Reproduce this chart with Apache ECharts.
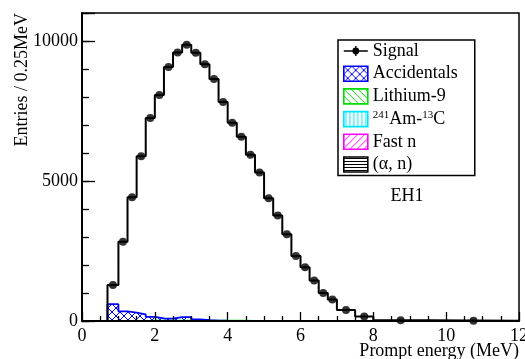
<!DOCTYPE html>
<html>
<head>
<meta charset="utf-8">
<script src="https://cdn.jsdelivr.net/npm/echarts@6/dist/echarts.min.js"></script>
<style>
  html, body { margin: 0; padding: 0; background: #fff; }
  #chart { width: 525px; height: 359px; }
</style>
</head>
<body>
<div id="chart"></div>
<script>
// Prompt-energy bin edges (MeV)
const binEdges = [0.7, 1.0, 1.25, 1.5, 1.75, 2.0, 2.25, 2.5, 2.75, 3.0, 3.25, 3.5, 3.75,
  4.0, 4.25, 4.5, 4.75, 5.0, 5.25, 5.5, 5.75, 6.0, 6.25, 6.5, 6.75, 7.0, 7.5, 8.0, 9.5, 12.0];

// Entries per 0.25 MeV in each bin
const signal = [1290, 2830, 4420, 5880, 7250, 8070, 9070, 9590, 9870, 9580, 9170, 8640, 7820,
  7080, 6580, 5940, 5300, 4380, 3770, 3100, 2320, 1920, 1450, 1000, 770, 390, 160, 25, 6];
const accidentals = [600, 345, 300, 240, 145, 90, 85, 135, 135, 60, 30, 15, 10,
  8, 6, 5, 4, 3, 3, 2, 2, 2, 1, 1, 1, 1, 0.5, 0.2, 0.1];
const lithium9 = [6, 7, 8, 8, 9, 9, 9, 9, 9, 9, 9, 9, 9,
  9, 9, 8, 8, 8, 8, 7, 7, 7, 6, 6, 6, 5, 5, 4, 2];
const amc = [0.1, 0.2, 0.3, 0.4, 0.5, 0.5, 0.5, 0.5, 0.5, 0.5, 0.5, 0.5, 0.4,
  0.4, 0.4, 0.4, 0.3, 0.3, 0.3, 0.3, 0.2, 0.2, 0.2, 0.2, 0.1, 0.1, 0.1, 0.1, 0.1];
const fastN = [3, 3, 3, 3, 3, 3, 3, 3, 3, 3, 3, 3, 3,
  3, 3, 3, 3, 3, 3, 3, 3, 3, 3, 3, 3, 3, 3, 3, 3];
const alphaN = [0.1, 0.1, 0.2, 0.2, 0.2, 0.2, 0.2, 0.2, 0.2, 0.2, 0.2, 0.2, 0.2,
  0.2, 0.2, 0.2, 0.2, 0.2, 0.2, 0.2, 0.1, 0.1, 0.1, 0.1, 0.1, 0.1, 0.1, 0.1, 0.1];

const yLabelValues = [0, 5000, 10000];

const FONT = '"Liberation Serif", "Times New Roman", serif';

// Outline of a histogram: horizontal run across each bin, vertical jumps at edges
function stepPoints(vals) {
  const pts = [[binEdges[0], 0]];
  vals.forEach((v, i) => {
    pts.push([binEdges[i], v]);
    pts.push([binEdges[i + 1], v]);
  });
  pts.push([binEdges[binEdges.length - 1], 0]);
  return pts;
}

function binCenters(vals) {
  return vals.map((v, i) => [(binEdges[i] + binEdges[i + 1]) / 2, v]);
}

// Hatched fill tiles
function hatch(color, kind, size) {
  const c = document.createElement('canvas');
  c.width = size; c.height = size;
  const g = c.getContext('2d');
  g.strokeStyle = color;
  g.lineWidth = 1;
  g.beginPath();
  if (kind === 'cross' || kind === 'back') {
    g.moveTo(-1, -1); g.lineTo(size + 1, size + 1);
  }
  if (kind === 'cross' || kind === 'fwd') {
    g.moveTo(-1, size + 1); g.lineTo(size + 1, -1);
  }
  if (kind === 'vert') {
    g.moveTo(size / 2, 0); g.lineTo(size / 2, size);
  }
  if (kind === 'horiz') {
    g.moveTo(0, size / 2); g.lineTo(size, size / 2);
  }
  g.stroke();
  return { image: c, repeat: 'repeat' };
}

const patAcc = hatch('#0000ff', 'cross', 8);
const patLi = hatch('#00dd00', 'back', 7);
const patAm = hatch('#00e5ff', 'vert', 4);
const patFn = hatch('#ff00ff', 'fwd', 7);
const patAn = hatch('#000000', 'horiz', 3);

const bkgDefs = [
  { name: 'Accidentals', vals: accidentals, line: '#0000ff', fill: patAcc },
  { name: 'Lithium-9', vals: lithium9, line: '#00dd00', fill: patLi },
  { name: '241Am-13C', vals: amc, line: '#00e5ff', fill: patAm },
  { name: 'Fast n', vals: fastN, line: '#ff00ff', fill: patFn },
  { name: '(α, n)', vals: alphaN, line: '#000000', fill: patAn }
];

// Marker with horizontal line and error bar for the Signal legend entry
const signalIcon = 'path://M0,0 h0.01 v0.01 h-0.01 Z M0,15 h0.01 v-0.01 h-0.01 Z ' +
  'M0,6.8 L24,6.8 L24,8.2 L0,8.2 Z M11.3,2.5 L12.7,2.5 L12.7,12.5 L11.3,12.5 Z ' +
  'M8.6,7.5 A3.4,3.4 0 1,1 15.4,7.5 A3.4,3.4 0 1,1 8.6,7.5 Z';

const chart = echarts.init(document.getElementById('chart'), null, { renderer: 'canvas' });

const series = [];
bkgDefs.slice().reverse().forEach(b => {
  series.push({
    name: b.name,
    type: 'line',
    data: stepPoints(b.vals),
    symbol: 'none',
    silent: true,
    lineStyle: { color: b.line, width: 1.8 },
    itemStyle: { color: b.line },
    areaStyle: { color: b.fill, opacity: 1 },
    z: 2
  });
});
series.push({
  name: 'Signal',
  type: 'line',
  data: stepPoints(signal),
  symbol: 'none',
  silent: true,
  lineStyle: { color: '#000', width: 2 },
  itemStyle: { color: '#000' },
  z: 3
});
series.push({
  name: 'Signal',
  type: 'scatter',
  data: binCenters(signal),
  symbol: 'circle',
  symbolSize: 8,
  silent: true,
  itemStyle: { color: '#000' },
  z: 4
});

const legendData = [{ name: 'Signal', icon: signalIcon, itemStyle: { color: '#000', borderWidth: 0 } }];
bkgDefs.forEach(b => {
  legendData.push({
    name: b.name,
    icon: 'rect',
    itemStyle: { color: b.fill, borderColor: b.line, borderWidth: 1.6 }
  });
});

chart.setOption({
  animation: false,
  backgroundColor: '#fff',
  grid: {
    left: 82, top: 13, width: 437, height: 308,
    outerBoundsMode: 'none', containLabel: false,
    show: true, borderColor: '#000', borderWidth: 1.5, backgroundColor: 'transparent'
  },
  xAxis: {
    type: 'value', min: 0, max: 12, interval: 2,
    z: 10,
    axisLine: { show: true, onZero: false, lineStyle: { color: '#000', width: 2 } },
    axisTick: { show: true, inside: true, length: 9, lineStyle: { color: '#000', width: 1.3 } },
    minorTick: { show: true, splitNumber: 4, length: 5, lineStyle: { color: '#000', width: 1.3 } },
    axisLabel: { color: '#000', fontFamily: FONT, fontSize: 18, margin: 6, hideOverlap: false },
    splitLine: { show: false }
  },
  yAxis: [
    {
      type: 'value', min: 0, max: 11000, interval: 1000,
      z: 10,
      axisLine: { show: true, onZero: false, lineStyle: { color: '#000', width: 2 } },
      axisTick: { show: true, inside: true, length: 7, lineStyle: { color: '#000', width: 1.3 } },
      axisLabel: {
        color: '#000', fontFamily: FONT, fontSize: 18, margin: 4,
        formatter: v => (yLabelValues.indexOf(v) >= 0 ? String(v) : '')
      },
      splitLine: { show: false }
    },
    {
      type: 'value', min: 0, max: 11000, interval: 5000, position: 'left',
      z: 10,
      axisLine: { show: false },
      axisTick: { show: true, inside: true, length: 13, lineStyle: { color: '#000', width: 1.3 } },
      axisLabel: { show: false },
      splitLine: { show: false }
    }
  ],
  legend: {
    orient: 'vertical',
    left: 338, top: 40,
    itemWidth: 24, itemHeight: 15, itemGap: 4.7, itemTextGap: 5,
    padding: [2, 17, 2, 5],
    borderColor: '#000', borderWidth: 1.5, backgroundColor: '#fff',
    selectedMode: false,
    textStyle: {
      color: '#000', fontFamily: FONT, fontSize: 18,
      rich: {
        sup: { fontFamily: FONT, fontSize: 11, color: '#000', verticalAlign: 'top' },
        n: { fontFamily: FONT, fontSize: 18, color: '#000' }
      }
    },
    formatter: n => (n === '241Am-13C' ? '{sup|241}{n|Am-}{sup|13}{n|C}' : n),
    data: legendData
  },
  graphic: [
    {
      type: 'text', x: 22, y: 13, rotation: Math.PI / 2,
      style: { text: 'Entries / 0.25MeV', fontFamily: FONT, fontSize: 18, fill: '#000',
        align: 'right', verticalAlign: 'middle' }
    },
    {
      type: 'text', x: 519, y: 351,
      style: { text: 'Prompt energy (MeV)', fontFamily: FONT, fontSize: 18, fill: '#000',
        align: 'right', verticalAlign: 'middle' }
    },
    {
      type: 'text', x: 407, y: 196,
      style: { text: 'EH1', fontFamily: FONT, fontSize: 18, fill: '#000',
        align: 'center', verticalAlign: 'middle' }
    }
  ],
  series: series
});
</script>
</body>
</html>
